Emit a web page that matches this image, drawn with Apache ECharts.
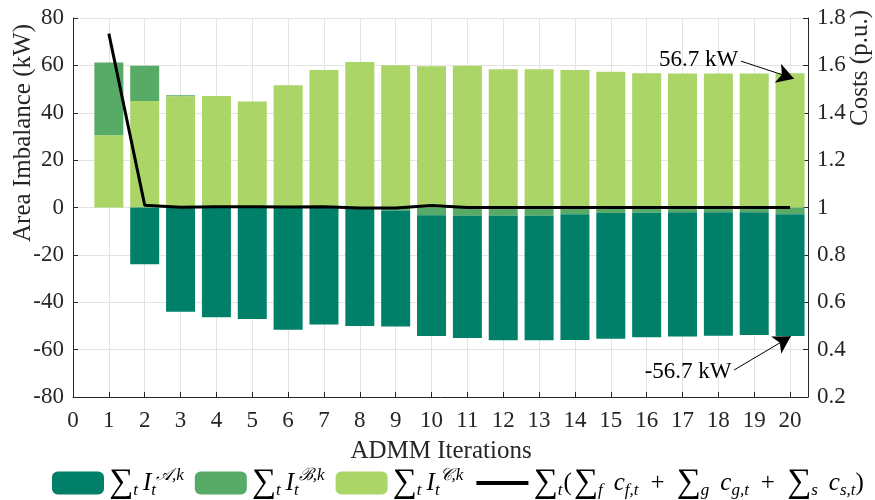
<!DOCTYPE html>
<html>
<head>
<meta charset="utf-8">
<script src="https://cdn.jsdelivr.net/npm/echarts@6/dist/echarts.min.js"></script>
<style>html,body{margin:0;padding:0;background:#fff}#c{width:875px;height:500px}</style>
</head>
<body>
<div id="c"></div>
<script>
const iterations = [1,2,3,4,5,6,7,8,9,10,11,12,13,14,15,16,17,18,19,20];
const imbalanceC = [30.5,45.0,47.0,47.1,44.8,51.6,58.0,61.4,60.1,59.6,59.8,58.4,58.4,58.0,57.3,56.7,56.6,56.6,56.6,56.7];
const imbalanceB = [30.7,14.8,0.4,0,0,0,0,0,-1.4,-3.3,-3.5,-3.5,-3.5,-2.8,-2.3,-2.2,-2.0,-2.0,-2.0,-2.8];
const imbalanceA = [0,-24.0,-44.0,-46.3,-47.1,-51.6,-49.4,-50.0,-48.8,-51.0,-51.6,-52.5,-52.5,-53.1,-53.1,-52.6,-52.5,-52.1,-51.8,-51.4];
const costs = [1.734,1.010,1.001,1.003,1.003,1.002,1.003,0.998,0.998,1.008,1.000,1.000,1.000,1.000,1.000,1.000,1.000,1.000,1.000,1.000];
const xTicks = [0,1,2,3,4,5,6,7,8,9,10,11,12,13,14,15,16,17,18,19,20];
const leftTicks = [-80,-60,-40,-20,0,20,40,60,80];
const rightTicks = [0.2,0.4,0.6,0.8,1,1.2,1.4,1.6,1.8];
const annotations = [
  {text:'56.7 kW', from:[18.63,61.8], to:[20.11,54.4]},
  {text:'-56.7 kW', from:[18.44,-68.6], to:[20.02,-54.4]}
];

const FONT = 'Liberation Serif';
const AX = '#262626';
const X_MAX = 20.5;
// half-step slots for the hidden category axis that carries the stacked bars
const slots = [];
for (let k = 0; k <= X_MAX * 2; k++) slots.push(String(k / 2));
const toSlots = (ys) => slots.map(s => { const i = iterations.indexOf(Number(s)); return i >= 0 ? ys[i] : null; });
const pair = (xs, ys) => xs.map((x,i)=>[x, ys[i]]);

const rich = {
  s:{fontFamily:FONT,fontSize:34,lineHeight:32,color:'#000'},
  n:{fontFamily:FONT,fontSize:25,lineHeight:32,color:'#000'},
  i:{fontFamily:FONT,fontSize:25,lineHeight:32,fontStyle:'italic',color:'#000',padding:[0,0,0,5]},
  c:{fontFamily:FONT,fontSize:25,lineHeight:32,fontStyle:'italic',color:'#000',padding:[0,0,0,11]},
  pl:{fontFamily:FONT,fontSize:25,lineHeight:32,color:'#000',padding:[0,12,0,12]},
  lp:{fontFamily:FONT,fontSize:25,lineHeight:32,color:'#000',padding:[0,2,0,1]},
  sub:{fontFamily:FONT,fontSize:17,fontStyle:'italic',verticalAlign:'bottom',color:'#000'},
  sup:{fontFamily:FONT,fontSize:17,fontStyle:'italic',verticalAlign:'top',color:'#000'}
};
const legendText = {
  A:'{s|∑}{sub|t}{i|I}{sub|t}{sup|𝒜,k}',
  B:'{s|∑}{sub|t}{i|I}{sub|t}{sup|ℬ,k}',
  C:'{s|∑}{sub|t}{i|I}{sub|t}{sup|𝒞,k}',
  L:'{s|∑}{sub|t}{lp|(}{s|∑}{sub|f}{c|c}{sub|f,t}{pl|+}{s|∑}{sub|g}{c|c}{sub|g,t}{pl|+}{s|∑}{sub|s}{c|c}{sub|s,t}{n|)}'
};
const names = {A:'IA', B:'IB', C:'IC', L:'cost'};
const nameToKey = {IA:'A', IB:'B', IC:'C', cost:'L'};

const chart = echarts.init(document.getElementById('c'));
chart.setOption({
  animation:false,
  backgroundColor:'#fff',
  grid:{left:73, right:67, top:18, bottom:103, containLabel:false},
  xAxis:[{
    type:'value', min:0, max:X_MAX, interval:1,
    axisLine:{show:true, onZero:false, lineStyle:{color:AX, width:1}},
    axisTick:{show:true, inside:true, length:5, lineStyle:{color:AX}},
    axisLabel:{fontFamily:FONT, fontSize:23, color:AX, margin:12, showMaxLabel:false,
      formatter:(v)=> xTicks.indexOf(v) >= 0 ? String(v) : ''},
    splitLine:{show:true, lineStyle:{color:'#e3e3e3', width:1}}
  },{
    type:'category', data:slots, boundaryGap:false, show:false,
    axisLine:{onZero:false}
  }],
  yAxis:[{
    type:'value', min:-80, max:80, interval:20,
    axisLine:{show:true, lineStyle:{color:AX, width:1}},
    axisTick:{show:true, inside:true, length:5, lineStyle:{color:AX}},
    axisLabel:{fontFamily:FONT, fontSize:23, color:AX, margin:9,
      formatter:(v)=> leftTicks.indexOf(v) >= 0 ? String(v) : ''},
    splitLine:{show:true, lineStyle:{color:'#e3e3e3', width:1}}
  },{
    type:'value', min:0.2, max:1.8, interval:0.2, position:'right',
    axisLine:{show:true, lineStyle:{color:AX, width:1}},
    axisTick:{show:true, inside:true, length:5, lineStyle:{color:AX}},
    axisLabel:{fontFamily:FONT, fontSize:23, color:AX, margin:9,
      formatter:(v)=> { const r = Math.round(v*10)/10; return rightTicks.indexOf(r) >= 0 ? String(r) : ''; }},
    splitLine:{show:false}
  }],
  legend:{
    left:52, top:466, padding:0, itemWidth:52, itemHeight:23, itemGap:11,
    data:[names.A, names.B, names.C,
      {name:names.L, itemStyle:{opacity:0}, lineStyle:{width:4, color:'#000'}}],
    formatter:(n)=> legendText[nameToKey[n]],
    textStyle:{rich:rich},
    selectedMode:false
  },
  series:[
    {name:names.C, type:'bar', stack:'imb', xAxisIndex:1, barWidth:29, data:toSlots(imbalanceC),
     itemStyle:{color:'#acd567'}},
    {name:names.B, type:'bar', stack:'imb', xAxisIndex:1, barWidth:29, data:toSlots(imbalanceB),
     itemStyle:{color:'#57ab66'}},
    {name:names.A, type:'bar', stack:'imb', xAxisIndex:1, barWidth:29, data:toSlots(imbalanceA),
     itemStyle:{color:'#008069'}},
    {name:names.L, type:'line', xAxisIndex:0, yAxisIndex:1, data:pair(iterations, costs),
     symbol:'none', lineStyle:{color:'#000', width:3}, itemStyle:{color:'#000'}, z:5},
    {name:'annotations', type:'scatter', xAxisIndex:0, yAxisIndex:0, data:[], silent:true,
     markLine:{silent:true, symbol:['none','arrow'], symbolSize:[15,17],
       lineStyle:{color:'#000', width:1, type:'solid'},
       label:{show:true, position:'start', fontFamily:FONT, fontSize:23, color:'#000', distance:3,
         formatter:(p)=>p.name},
       data: annotations.map(a=>[{name:a.text, coord:a.from},{coord:a.to}])
     }}
  ],
  graphic:[
    {type:'text', x:23, y:133, rotation:Math.PI/2,
     style:{text:'Area Imbalance (kW)', font:'25px "Liberation Serif"', fill:AX, align:'center', verticalAlign:'middle'}},
    {type:'text', x:860, y:68, rotation:Math.PI/2,
     style:{text:'Costs (p.u.)', font:'25px "Liberation Serif"', fill:AX, align:'center', verticalAlign:'middle'}},
    {type:'text', x:441, y:451,
     style:{text:'ADMM Iterations', font:'25px "Liberation Serif"', fill:AX, align:'center', verticalAlign:'middle'}}
  ]
});
</script>
</body>
</html>
